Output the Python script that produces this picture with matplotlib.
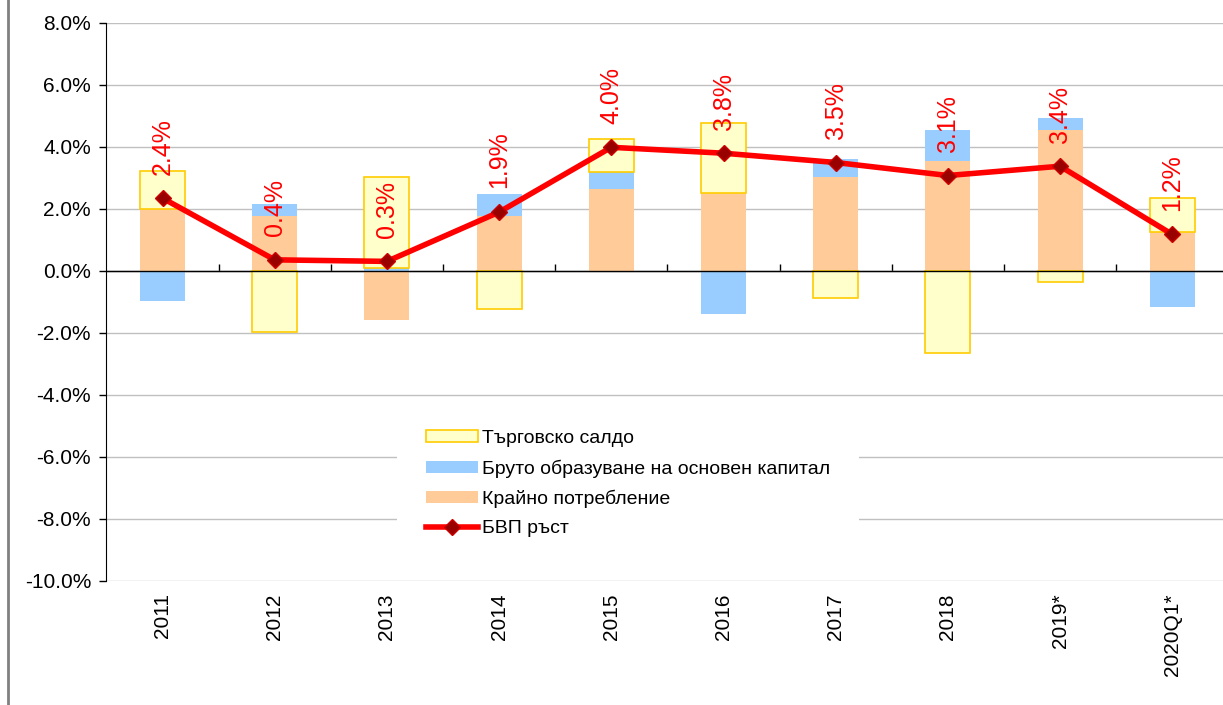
import matplotlib
matplotlib.use("Agg")
import matplotlib.pyplot as plt
import numpy as np
from matplotlib.lines import Line2D
from matplotlib.ticker import FuncFormatter

plt.rcParams['font.family'] = ['Liberation Sans', 'DejaVu Sans']

# data (percentage points)
periods = ["2011", "2012", "2013", "2014", "2015", "2016", "2017", "2018", "2019*", "2020Q1*"]
consumption = [2.00, 1.78, -1.58, 1.76, 2.64, 2.51, 3.02, 3.55, 4.55, 1.25]
investment = [-0.97, 0.37, 0.10, 0.73, 0.56, -1.40, 0.60, 1.01, 0.40, -1.17]
trade_balance = [1.24, -1.97, 2.93, -1.22, 1.06, 2.26, -0.88, -2.63, -0.35, 1.11]
gdp_growth = [2.35, 0.36, 0.31, 1.90, 3.99, 3.80, 3.50, 3.08, 3.38, 1.18]

labels = {
    "trade": "Търговско салдо",
    "inv": "Бруто образуване на основен капитал",
    "cons": "Крайно потребление",
    "gdp": "БВП ръст",
}

c_cons = "#FFCC99"
c_inv = "#99CCFF"
c_trade = "#FFFFCC"
c_trade_edge = "#FFCC00"

fig = plt.figure(figsize=(12.23, 7.05), dpi=100)
ax = fig.add_axes([106.4 / 1223, 124 / 705, 1122 / 1223, 558 / 705])

x = np.arange(len(periods))
width = 0.4

# stack positives upward and negatives downward, like Excel
pos_base = np.zeros(len(x))
neg_base = np.zeros(len(x))
series = [
    (consumption, dict(color=c_cons, edgecolor="none"), labels["cons"]),
    (investment, dict(color=c_inv, edgecolor="none"), labels["inv"]),
    (trade_balance, dict(color=c_trade, edgecolor=c_trade_edge, linewidth=1.2), labels["trade"]),
]
handles = {}
for vals, style, name in series:
    vals = np.array(vals)
    bottoms = np.where(vals >= 0, pos_base, neg_base)
    bars = ax.bar(x, vals, width, bottom=bottoms, label=name, zorder=2, **style)
    handles[name] = bars
    pos_base = pos_base + np.where(vals >= 0, vals, 0)
    neg_base = neg_base + np.where(vals < 0, vals, 0)

line, = ax.plot(x, gdp_growth, color="#FF0000", lw=4, marker="D", markersize=8,
                markerfacecolor="#990000", markeredgecolor="#CC0000", zorder=4,
                label=labels["gdp"])

for xi, v in zip(x, gdp_growth):
    ax.annotate(f"{v:.1f}%", (xi, v), xytext=(0, 17), textcoords="offset points",
                rotation=90, ha="center", va="bottom", color="#FF0000", fontsize=18,
                zorder=5)

ax.set_xlim(-0.5, len(periods) - 0.5)
ax.set_ylim(-10, 8)
ax.set_yticks(np.arange(-10, 8.1, 2))
ax.yaxis.set_major_formatter(FuncFormatter(lambda v, p: f"{v:.1f}%"))
ax.tick_params(axis="y", direction="out", length=5, width=1, pad=6, labelsize=15)
ax.yaxis.grid(True, color="#C0C0C0", lw=1)
ax.set_axisbelow(True)
ax.axhline(0, color="black", lw=1, zorder=3)

ax.set_xticks(x)
ax.set_xticklabels(periods, rotation=90, fontsize=15, va="top")
ax.tick_params(axis="x", length=0, pad=9)

for side in ["top", "right", "bottom"]:
    ax.spines[side].set_visible(False)
ax.spines["left"].set_color("black")

# tick marks between categories on the zero line
zero_pos = (0 - (-10)) / 18
sec = ax.secondary_xaxis(zero_pos)
sec.set_xticks(x[:-1] + 0.5)
sec.set_xticklabels([])
sec.tick_params(direction="out", length=5, width=1, color="black")
sec.spines["bottom"].set_visible(False)

order = [labels["trade"], labels["inv"], labels["cons"]]
leg = ax.legend([handles[n] for n in order] + [line], order + [labels["gdp"]],
                loc="upper left", bbox_to_anchor=(0.25, 0.34), fontsize=14,
                frameon=True, facecolor="white", edgecolor="none", framealpha=1,
                fancybox=False, borderpad=1.5, handlelength=2.7, handleheight=0.55,
                handletextpad=0.2, labelspacing=0.62)

# left border line of the exported picture
fig.add_artist(Line2D([7.5 / 1223, 7.5 / 1223], [0, 1], color="#808080", lw=2))

fig.savefig("out.png", dpi=100)
